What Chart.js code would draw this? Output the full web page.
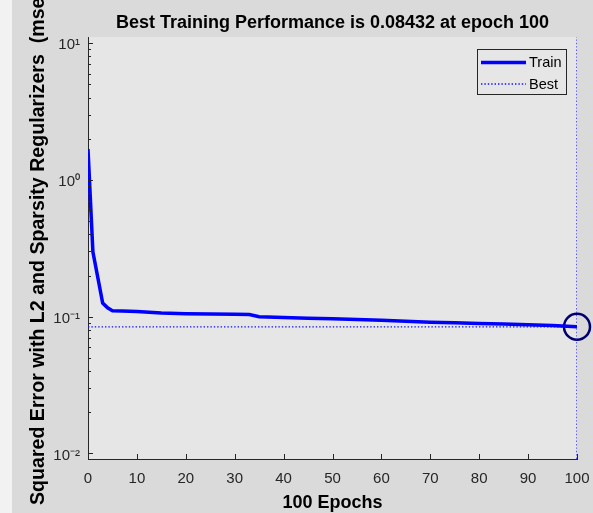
<!DOCTYPE html>
<html>
<head>
<meta charset="utf-8">
<script src="https://cdn.jsdelivr.net/npm/chart.js@4.4.1/dist/chart.umd.min.js"></script>
<style>
  html, body { margin: 0; padding: 0; background: #dadada; }
  #wrap { width: 593px; height: 513px; }
</style>
</head>
<body>
<div id="wrap"><canvas id="perfChart"></canvas></div>
<script>
// training record
var epochs = [0, 1, 2, 3, 4, 5, 7, 10, 15, 20, 25, 30, 33, 35, 40, 45, 50, 55, 60, 65, 70, 75, 80, 85, 90, 95, 100];
var trainPerf = [1.68, 0.298, 0.194, 0.1256, 0.116, 0.1105, 0.1100, 0.1090, 0.1062, 0.1052, 0.1046, 0.1042, 0.1036, 0.0998,
                 0.0985, 0.0975, 0.0964, 0.0955, 0.0943, 0.0925, 0.0912, 0.0902, 0.0893, 0.0884, 0.0874, 0.0860, 0.08432];
var bestEpoch = 100;
var bestPerf = 0.08432;
var xTicks = [0, 10, 20, 30, 40, 50, 60, 70, 80, 90, 100];
var yTicks = [0.01, 0.1, 1, 10];
var yTickLabels = ['10\u207B\u00B2', '10\u207B\u00B9', '10\u2070', '10\u00B9'];
var yLimits = [0.0091, 11.1];

var axisColor = '#262626';

function pairs(xs, ys) {
    return xs.map(function (x, i) { return { x: x, y: ys[i] }; });
}

var chart_trainingPerformance = new Chart(document.getElementById('perfChart'), {
    type: 'line',
    data: {
        datasets: [
            {
                label: 'Train',
                data: pairs(epochs, trainPerf),
                borderColor: '#0000ff',
                borderWidth: 3.5,
                pointRadius: 0,
                tension: 0
            },
            {
                label: 'Best',
                data: [
                    { x: 0, y: bestPerf }, { x: bestEpoch, y: bestPerf },
                    { x: bestEpoch, y: null },
                    { x: bestEpoch, y: yLimits[0] }, { x: bestEpoch, y: yLimits[1] }
                ],
                borderColor: '#1010ff',
                borderWidth: 1.3,
                borderDash: [1.4, 2],
                pointRadius: 0,
                spanGaps: false
            },
            {
                label: 'bestMarker',
                data: [{ x: bestEpoch, y: bestPerf }],
                showLine: false,
                pointStyle: 'circle',
                pointRadius: 13,
                pointBorderWidth: 2.5,
                pointBorderColor: '#00006e',
                pointBackgroundColor: 'rgba(0,0,0,0)',
                clip: false
            }
        ]
    },
    options: {
        animation: false,
        responsive: true,
        maintainAspectRatio: false,
        layout: { padding: { top: 0, right: 16, bottom: 0, left: 0 } },
        plugins: {
            legend: { display: false },
            tooltip: { enabled: false },
            title: {
                display: true,
                fullSize: false,
                text: 'Best Training Performance is 0.08432 at epoch 100',
                color: '#000000',
                font: { family: '"Liberation Sans", Arial, sans-serif', size: 18, weight: 'bold' },
                padding: { top: 12, bottom: 3.4 }
            }
        },
        scales: {
            x: {
                type: 'linear',
                min: 0,
                max: 100,
                afterBuildTicks: function (scale) {
                    scale.ticks = xTicks.map(function (v) { return { value: v }; });
                },
                afterFit: function (scale) {
                    scale.height = 54;
                    scale.paddingLeft = 0;
                    scale.paddingRight = 0;
                },
                grid: { display: false, drawTicks: false },
                border: { display: true, color: axisColor, width: 1 },
                ticks: {
                    color: axisColor,
                    padding: 11,
                    maxRotation: 0,
                    font: { family: '"Liberation Sans", Arial, sans-serif', size: 15 }
                },
                title: {
                    display: true,
                    text: '100 Epochs',
                    color: '#000000',
                    font: { family: '"Liberation Sans", Arial, sans-serif', size: 18, weight: 'bold' },
                    padding: { top: 0, bottom: -1 }
                }
            },
            y: {
                type: 'logarithmic',
                min: yLimits[0],
                max: yLimits[1],
                afterBuildTicks: function (scale) {
                    scale.ticks = yTicks.map(function (v) { return { value: v }; });
                },
                afterFit: function (scale) {
                    scale.width = 88;
                    scale.paddingTop = 0;
                    scale.paddingBottom = 0;
                },
                grid: { display: false, drawTicks: false },
                border: { display: true, color: axisColor, width: 1 },
                ticks: {
                    color: axisColor,
                    padding: 8,
                    labelOffset: 2,
                    font: { family: '"Liberation Sans", Arial, sans-serif', size: 15 },
                    callback: function (value) {
                        var i = yTicks.indexOf(value);
                        return i >= 0 ? yTickLabels[i] : '';
                    }
                },
                title: {
                    display: true,
                    text: 'Squared Error with L2 and Sparsity Regularizers  (mse)',
                    color: '#000000',
                    font: { family: '"Liberation Sans", Arial, sans-serif', size: 19.6, weight: 'bold' },
                    padding: { top: 27, bottom: 0 }
                }
            }
        }
    },
    plugins: [{
        id: 'matlabLook',
        beforeDraw: function (chart) {
            var ctx = chart.ctx, a = chart.chartArea;
            ctx.save();
            ctx.fillStyle = '#dadada';
            ctx.fillRect(0, 0, chart.width, chart.height);
            ctx.fillStyle = '#f2f2f2';
            ctx.fillRect(0, 0, 12, chart.height);
            ctx.fillStyle = '#e6e6e6';
            ctx.fillRect(a.left, a.top, a.right - a.left, a.bottom - a.top);
            ctx.restore();
        },
        afterDraw: function (chart) {
            var ctx = chart.ctx, a = chart.chartArea;
            var xs = chart.scales.x, ys = chart.scales.y;
            ctx.save();
            ctx.strokeStyle = axisColor;
            ctx.lineWidth = 1;
            ctx.beginPath();
            // inward x ticks
            xTicks.forEach(function (v) {
                var px = Math.round(xs.getPixelForValue(v)) + 0.5;
                ctx.moveTo(px, a.bottom);
                ctx.lineTo(px, a.bottom - 5);
            });
            // inward y ticks, decades and minor
            yTicks.forEach(function (d) {
                for (var m = 1; m <= 9; m++) {
                    var v = d * m;
                    if (v < yLimits[0] || v > yLimits[1]) continue;
                    var py = Math.round(ys.getPixelForValue(v)) + 0.5;
                    ctx.moveTo(a.left, py);
                    ctx.lineTo(a.left + (m === 1 ? 5 : 3), py);
                }
            });
            ctx.stroke();

            // legend box in the top right corner
            var w = 89, h = 45;
            var lx = a.right - 11 - w, ly = a.top + 12;
            ctx.fillStyle = '#e6e6e6';
            ctx.fillRect(lx, ly, w, h);
            ctx.strokeStyle = '#262626';
            ctx.lineWidth = 1;
            ctx.strokeRect(lx + 0.5, ly + 0.5, w, h);
            var items = chart.data.datasets.slice(0, 2);
            ctx.font = '14.5px "Liberation Sans", Arial, sans-serif';
            ctx.textBaseline = 'middle';
            ctx.textAlign = 'left';
            items.forEach(function (ds, i) {
                var y = ly + 13.5 + i * 21.5;
                ctx.beginPath();
                ctx.strokeStyle = ds.borderColor;
                ctx.lineWidth = ds.borderWidth;
                ctx.setLineDash(ds.borderDash || []);
                ctx.moveTo(lx + 4, y);
                ctx.lineTo(lx + 49, y);
                ctx.stroke();
                ctx.setLineDash([]);
                ctx.fillStyle = '#000000';
                ctx.fillText(ds.label, lx + 52, y + 0.5);
            });
            ctx.restore();
        }
    }]
});
</script>
</body>
</html>
